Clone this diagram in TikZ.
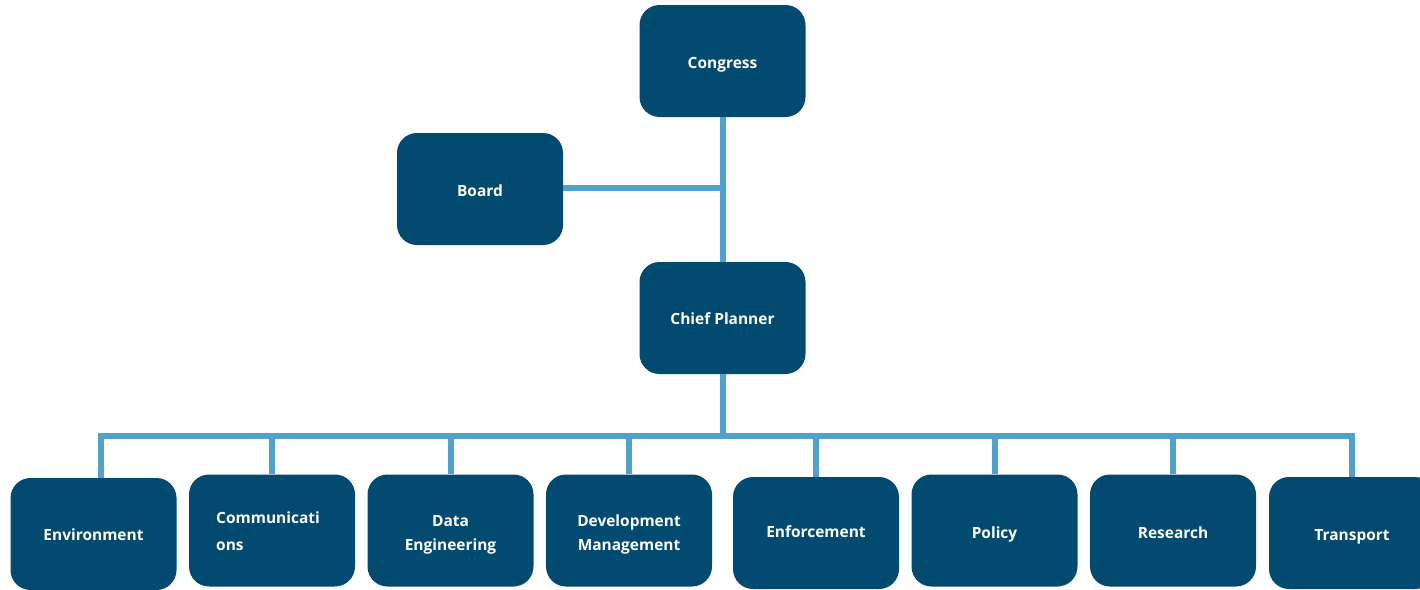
\documentclass[tikz,border=0pt]{standalone}
\usepackage{fontspec}
\setmainfont{Open Sans}
\definecolor{boxfill}{RGB}{2,74,112}
\definecolor{linkcol}{RGB}{82,160,204}
\begin{document}
\begin{tikzpicture}[x=0.75pt,y=-0.75pt,
  orgbox/.style={draw=none,fill=boxfill,rounded corners=15pt,minimum width=124.5pt,minimum height=84pt,inner sep=0pt},
  lbl/.style={text=white,font=\fontsize{11.6}{18}\selectfont\bfseries,align=center,inner sep=0pt},
  link/.style={draw=linkcol,line width=4.5pt}]
\useasboundingbox (0,0) rectangle (1420,589);
\node[orgbox] (congress) at (722.5,61) {};
\node[orgbox] (board) at (480,189) {};
\node[orgbox] (chief) at (722.5,318) {};
\node[orgbox] (env) at (93.5,534) {};
\node[orgbox] (comm) at (272,530.5) {};
\node[orgbox] (data) at (450.5,530.5) {};
\node[orgbox] (dev) at (629,530.5) {};
\node[orgbox] (enf) at (816,533) {};
\node[orgbox] (pol) at (994.5,530.5) {};
\node[orgbox] (res) at (1173,530.5) {};
\node[orgbox] (tra) at (1352,533) {};
\node[lbl] (tcongress) at ([yshift=-3pt]congress.center) {Congress};
\node[lbl] (tboard) at ([yshift=-1.5pt]board.center) {Board};
\node[lbl] (tchief) at ([yshift=-0.75pt]chief.center) {Chief Planner};
\node[lbl] (tenv) at ([yshift=-0.75pt]env.center) {Environment};
\node[lbl,align=left,font=\fontsize{11.6}{20}\selectfont\bfseries] (tcomm) at ([xshift=-3pt,yshift=-0.75pt]comm.center) {Communicati\\ons};
\node[lbl] (tdata) at ([yshift=-3pt]data.center) {Data\\Engineering};
\node[lbl] (tdev) at ([yshift=-3pt]dev.center) {Development\\Management};
\node[lbl] (tenf) at ([yshift=0.75pt]enf.center) {Enforcement};
\node[lbl] (tpol) at ([yshift=-3pt]pol.center) {Policy};
\node[lbl] (tres) at ([yshift=-1.5pt]res.center) {Research};
\node[lbl] (ttra) at ([yshift=-3pt]tra.center) {Transport};
\coordinate (bus) at (722.5,436);
\coordinate (join) at (722.5,188);
\draw[link] (congress.south) -- (chief.north);
\draw[link] (board.east |- join) -- (join);
\draw[link] (chief.south) -- (bus);
\draw[link] (env.north -| 101,0) -- (101,436) -- (1352,436) -- (tra.north);
\foreach \n/\xx in {comm/272,data/450.5,dev/629,enf/816,pol/994.5,res/1173}{
  \draw[link] (\n.north) -- (\xx,436);
}
\end{tikzpicture}
\end{document}
